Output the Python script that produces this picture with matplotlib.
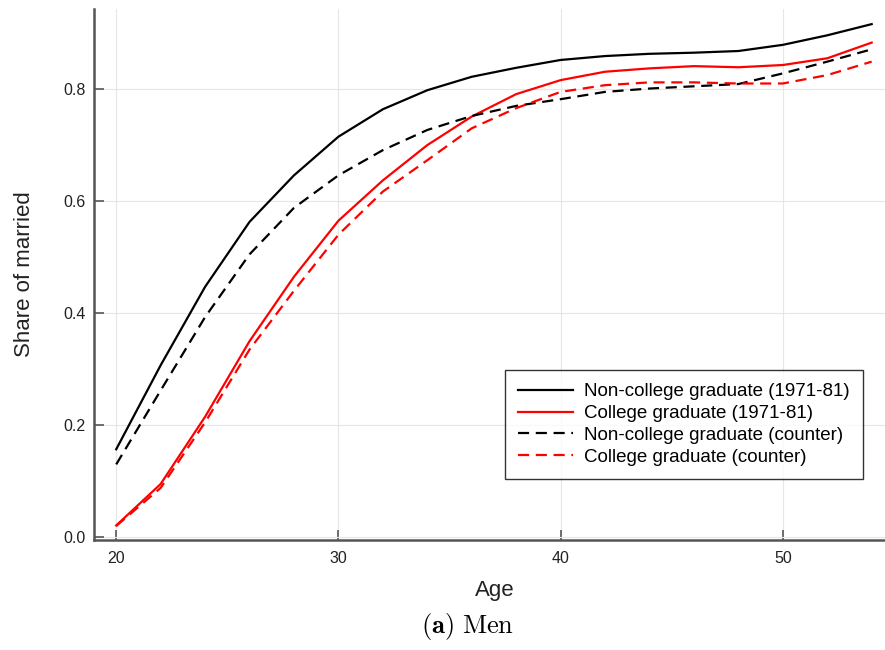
import numpy as np
import matplotlib
matplotlib.use("Agg")
import matplotlib.pyplot as plt

plt.rcParams["font.family"] = ["Liberation Sans", "DejaVu Sans"]
plt.rcParams["mathtext.fontset"] = "cm"

age = [20, 22, 24, 26, 28, 30, 32, 34, 36, 38, 40, 42, 44, 46, 48, 50, 52, 54]

noncol_base = [0.157, 0.307, 0.447, 0.563, 0.646, 0.715, 0.764, 0.798, 0.822,
               0.838, 0.852, 0.859, 0.863, 0.865, 0.868, 0.879, 0.896, 0.916]
col_base = [0.021, 0.095, 0.215, 0.350, 0.465, 0.565, 0.637, 0.700, 0.751,
            0.791, 0.816, 0.831, 0.837, 0.841, 0.839, 0.843, 0.855, 0.883]
noncol_counter = [0.130, 0.262, 0.393, 0.505, 0.588, 0.646, 0.691, 0.727, 0.752,
                  0.770, 0.782, 0.795, 0.801, 0.805, 0.809, 0.828, 0.849, 0.871]
col_counter = [0.020, 0.088, 0.205, 0.335, 0.440, 0.540, 0.617, 0.673, 0.730,
               0.766, 0.795, 0.807, 0.812, 0.812, 0.810, 0.810, 0.825, 0.849]

labels = [
    "Non-college graduate (1971-81)",
    "College graduate (1971-81)",
    "Non-college graduate (counter)",
    "College graduate (counter)",
]

fig = plt.figure(figsize=(8.85, 6.5), dpi=100)
ax = fig.add_axes([94 / 885, 1 - 540 / 650, 791 / 885, 531 / 650])

dash = (0, (5, 3))
ax.plot(age, noncol_base, color="black", linewidth=1.6, label=labels[0])
ax.plot(age, col_base, color="red", linewidth=1.6, label=labels[1])
ax.plot(age, noncol_counter, color="black", linewidth=1.6, linestyle=dash, label=labels[2])
ax.plot(age, col_counter, color="red", linewidth=1.6, linestyle=dash, label=labels[3])

ax.set_xlim(19.0, 54.6)
ax.set_ylim(-0.005, 0.943)
ax.set_xticks([20, 30, 40, 50])
ax.set_yticks([0.0, 0.2, 0.4, 0.6, 0.8])
ax.set_yticklabels(["0.0", "0.2", "0.4", "0.6", "0.8"])

ax.grid(True, color="#e6e6e6", linewidth=0.8)
ax.set_axisbelow(True)
for side in ["top", "right"]:
    ax.spines[side].set_visible(False)
for side in ["left", "bottom"]:
    ax.spines[side].set_color("#555555")
    ax.spines[side].set_linewidth(1.8)
ax.tick_params(direction="in", length=7, width=1.2, color="#555555",
               labelsize=11.5, labelcolor="#222222")
ax.tick_params(axis="x", pad=8)
ax.tick_params(axis="y", pad=6)

ax.set_xlabel("Age", fontsize=16, color="#222222")
ax.xaxis.set_label_coords((495 - 94) / 791, -0.075)
ax.set_ylabel("Share of married", fontsize=16, color="#222222")
ax.yaxis.set_label_coords(-0.075, 0.5)

leg = ax.legend(loc="upper left", bbox_to_anchor=((505 - 94) / 791, (540 - 370) / 531),
                borderaxespad=0, fontsize=13.5, frameon=True, fancybox=False,
                handlelength=2.9, borderpad=0.7, labelspacing=0.25, handletextpad=0.6)
leg.get_frame().set_edgecolor("black")
leg.get_frame().set_linewidth(1.0)

fig.text(468 / 885, 1 - 627 / 650, r"$\mathbf{(a)}\ \mathrm{Men}$",
         ha="center", va="center", fontsize=19)

fig.savefig("out.png", dpi=100)
